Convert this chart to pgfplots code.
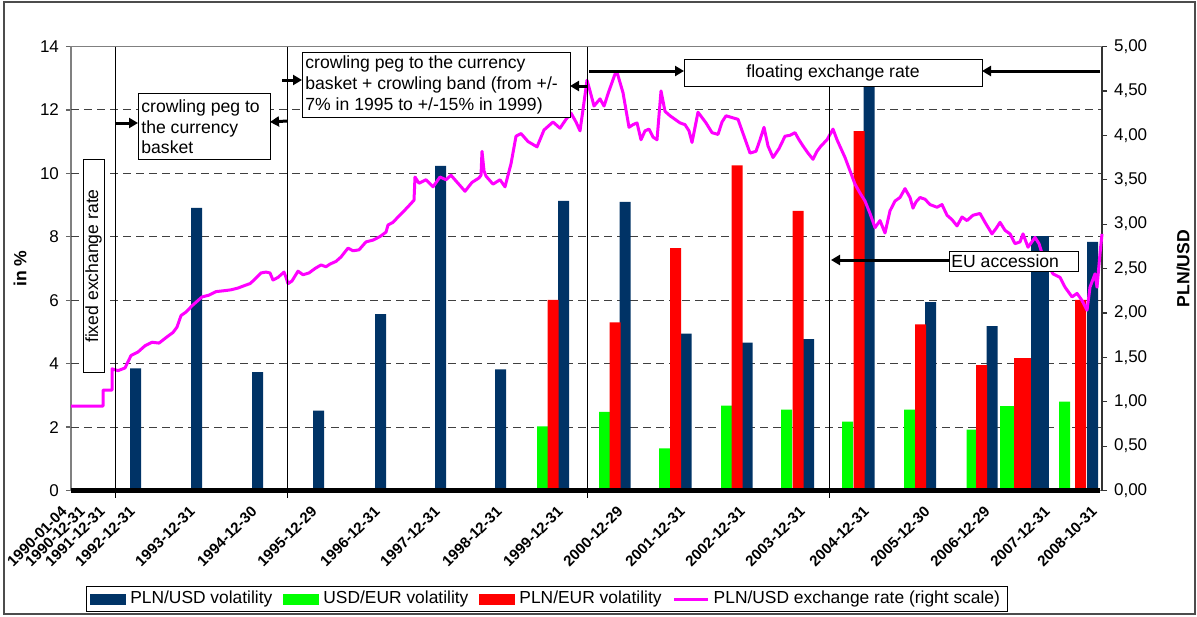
\documentclass[border=0pt]{standalone}
\usepackage{pgfplots}
\usepackage{pgfplotstable}
\pgfplotsset{compat=1.18}
\usepackage{fontspec}
\setmainfont{Liberation Sans}
\usetikzlibrary{arrows.meta}
\definecolor{navy}{HTML}{003366}
\definecolor{lgreen}{HTML}{00FF00}
\definecolor{lred}{HTML}{FF0000}
\definecolor{magen}{HTML}{FF00FF}

% x = position along the time axis (0 = 1990-01-04, 1031 = 2008-10-31)
\pgfplotstableread{
x y
64.5 3.85
125.5 8.91
186.5 3.73
247.5 2.52
309.5 5.56
369.5 10.24
429.5 3.82
492.5 9.13
554 9.10
615 4.95
676 4.66
737.5 4.77
798 13.2
859.5 5.94
921 5.18
1021.5 7.84
}\bluetab
\pgfplotstableread{
x y
471.5 2.02
533.5 2.48
593.5 1.33
655.5 2.68
715.5 2.55
776.5 2.17
838.5 2.55
901 1.92
993.5 2.80
}\greentab
\pgfplotstableread{
x y
482 6.01
544 5.30
604.5 7.64
666 10.25
727 8.82
788 11.33
849.5 5.24
910.5 3.95
1009.5 6.01
}\redtab
\pgfplotstableread{
x y
0 0.95
32 0.95
32 1.13
41 1.13
41 1.37
47 1.35
54 1.38
60 1.52
67 1.56
74 1.63
81 1.67
88 1.66
96 1.73
102 1.78
106 1.84
110 1.97
115 2.01
121 2.08
131 2.18
138 2.20
145 2.24
153 2.25
160 2.26
167 2.28
174 2.31
179 2.33
183 2.37
190 2.45
195 2.46
199 2.45
202 2.37
207 2.40
213 2.46
215 2.40
217 2.33
221 2.36
227 2.47
232 2.43
238 2.45
244 2.50
250 2.54
255 2.52
259 2.55
265 2.58
270 2.63
277 2.73
282 2.70
288 2.71
295 2.80
302 2.82
309 2.86
315 2.91
317 2.99
322 3.02
327 3.08
334 3.16
339 3.22
343 3.27
344 3.53
348 3.46
355 3.50
362 3.42
369 3.53
375 3.50
380 3.55
387 3.46
394 3.37
401 3.47
408 3.52
410 3.55
411 3.82
413 3.60
415 3.54
422 3.45
429 3.50
434 3.42
440 3.68
445 3.99
450 4.02
457 3.93
466 3.87
473 4.06
482 4.15
489 4.08
495 4.18
500 4.25
505 4.15
509 4.05
512 4.29
516 4.62
519 4.50
523 4.33
529 4.41
533 4.33
538 4.50
544 4.69
546 4.71
552 4.48
558 4.09
562 4.12
566 4.14
570 3.95
574 4.05
578 4.07
582 3.98
586 3.95
590 4.50
594 4.27
599 4.22
604 4.18
609 4.14
614 4.12
618 4.05
621 3.92
627 4.26
631 4.20
635 4.14
641 4.03
647 4.01
651 4.15
655 4.22
661 4.20
667 4.18
673 3.99
679 3.80
685 3.82
689 3.95
693 4.09
697 3.88
702 3.75
708 3.85
714 3.99
719 4.00
724 4.03
728 3.95
732 3.88
737 3.80
742 3.73
746 3.82
750 3.88
756 3.95
762 4.07
766 3.95
770 3.85
774 3.75
779 3.60
784 3.45
789 3.35
794 3.26
799 3.12
804 2.96
809 3.04
814 2.90
819 3.15
824 3.26
829 3.30
834 3.40
839 3.30
842 3.18
845 3.25
849 3.30
854 3.28
859 3.22
866 3.19
871 3.22
876 3.10
881 3.05
886 2.98
891 3.08
896 3.04
902 3.10
909 3.12
914 3.02
921 2.89
925 2.95
929 3.02
934 2.93
939 2.89
944 2.78
949 2.80
952 2.89
957 2.74
964 2.85
968 2.78
971 2.67
976 2.56
982 2.44
989 2.40
994 2.29
1001 2.18
1006 2.22
1011 2.14
1016 2.03
1019 2.29
1024 2.44
1026 2.29
1029 2.67
1031 2.89
}\ratetab

\pgfplotsset{
  barleg/.style={legend image code/.code={\fill[##1] (0pt,-2.75pt) rectangle (18pt,2.75pt);}},
}

\begin{document}
\begin{tikzpicture}
\begin{scope}[x=0.5pt,y=-0.5pt]
  \useasboundingbox (0,0) rectangle (1197,616);
\end{scope}

\begin{axis}[
  at={(35.5pt,-245.25pt)}, anchor=south west,
  scale only axis, width=515.5pt, height=222pt,
  xmin=0, xmax=1031, ymin=0, ymax=14,
  clip=false,
  axis line style={draw=black!50, line width=0.6pt},
  /pgf/number format/assume math mode=true,
  ytick={0,2,4,6,8,10,12,14},
  ytick pos=left,
  tick align=outside,
  major tick length=2.5pt,
  y tick style={black!60, line width=0.6pt},
  yticklabel style={font=\fontsize{8.5}{10}\selectfont},
  xtick={0,18,38,68,128,190,250,313,373,435,496,556,618,678,738,802,863,923,983,1030},
  xticklabels={1990-01-04,1990-12-31,1991-12-31,1992-12-31,1993-12-31,1994-12-30,1995-12-29,1996-12-31,1997-12-31,1998-12-31,1999-12-31,2000-12-29,2001-12-31,2002-12-31,2003-12-31,2004-12-31,2005-12-30,2006-12-29,2007-12-31,2008-10-31},
  x tick style={draw=none},
  xticklabel style={font=\fontsize{7.5}{9}\selectfont\bfseries, xshift=-2.6pt, yshift=-6pt, rotate=45, anchor=east, inner sep=1pt},
  extra y ticks={2,4,6,8,10,12}, extra y tick labels={},
  extra y tick style={grid=major, major tick length=0pt},
  grid style={black!75, dash pattern=on 4pt off 2.5pt, line width=0.5pt},
  ylabel={in \%},
  ylabel style={font=\fontsize{8.8}{10}\selectfont\bfseries, at={(axis description cs:-0.0495,0.5)}, anchor=center},
  legend style={at={(0.4618,-0.2444)}, anchor=center, legend columns=4, draw=black, line width=0.5pt,
    font=\fontsize{8.7}{10}\selectfont, inner xsep=2pt, inner ysep=0.5pt,
    /tikz/every even column/.append style={column sep=3.5pt}},
]
\addplot[ybar, bar width=11, bar shift=0pt, fill=navy, draw=none, barleg] table[x=x,y=y]{\bluetab};
\addlegendentry{PLN/USD volatility}
\addplot[ybar, bar width=11, bar shift=0pt, fill=lgreen, draw=none, barleg] table[x=x,y=y]{\greentab};
\addlegendentry{USD/EUR volatility}
\addplot[ybar, bar width=11, bar shift=0pt, fill=lred, draw=none, barleg] table[x=x,y=y]{\redtab};
\addlegendentry{PLN/EUR volatility}
\addlegendimage{magen, line width=1.5pt, line legend}
\addlegendentry{PLN/USD exchange rate (right scale)}
% 2007 bars are wider in the reference
\addplot[ybar, bar width=14, bar shift=0pt, fill=lgreen, draw=none, forget plot] coordinates {(936,2.68)};
\addplot[ybar, bar width=17, bar shift=0pt, fill=lred, draw=none, forget plot] coordinates {(951.5,4.19)};
\addplot[ybar, bar width=18, bar shift=0pt, fill=navy, draw=none, forget plot] coordinates {(969,8.03)};
\draw[black, line width=2.5pt] (axis cs:0,0) -- (axis cs:1029,0);
\end{axis}

\begin{axis}[
  at={(35.5pt,-245.25pt)}, anchor=south west,
  scale only axis, width=515.5pt, height=222pt,
  xmin=0, xmax=1031, ymin=0, ymax=5,
  clip=false,
  axis x line=none,
  axis y line*=right,
  axis line style={black!80, line width=0.6pt, -},
  /pgf/number format/assume math mode=true,
  ytick={0,0.5,1,1.5,2,2.5,3,3.5,4,4.5,5},
  tick align=outside, major tick length=2.5pt,
  y tick style={black!80, line width=0.6pt},
  yticklabel style={font=\fontsize{8.5}{10}\selectfont, /pgf/number format/fixed, /pgf/number format/fixed zerofill, /pgf/number format/precision=2, /pgf/number format/use comma},
  ylabel={PLN/USD},
  ylabel style={font=\fontsize{8.8}{10}\selectfont\bfseries, at={(axis description cs:1.0786,0.5)}, anchor=center},
]
\addplot[magen, line width=1.5pt, line join=round] table[x=x,y=y]{\ratetab};
\end{axis}

\begin{scope}[x=0.5pt,y=-0.5pt, font=\fontsize{8.8}{10.35}\selectfont]
  % outer frame
  \draw[black!70, line width=1pt] (4,2) rectangle (1195,614);
  % regime boundaries
  \draw[black, line width=0.5pt] (115,46.5) -- (115,498);
  \draw[black, line width=0.5pt] (287,46.5) -- (287,498);
  \draw[black, line width=0.5pt] (587,46.5) -- (587,498);
  \draw[black, line width=0.5pt] (829,86) -- (829,498);
  % boxes
  \draw[fill=white, line width=0.5pt] (83,159) rectangle (104,372);
  \node[rotate=90, inner sep=0pt] at (93.5,266) {fixed exchange rate};
  \draw[fill=white, line width=0.5pt] (138,93) rectangle (270,159);
  \node[anchor=west, align=left, inner sep=0pt] at (141,127) {crowling peg to\\the currency\\basket};
  \draw[fill=white, line width=0.5pt] (302,52) rectangle (570,117);
  \node[anchor=west, align=left, inner sep=0pt] at (305,85) {crowling peg to the currency\\basket + crowling band (from +/-\\7\% in 1995 to +/-15\% in 1999)};
  \draw[fill=white, line width=0.5pt] (684,59) rectangle (982,86);
  \node[inner sep=0pt] at (833,72.5) {floating exchange rate};
  \draw[fill=white, line width=0.5pt] (949,251) rectangle (1078,271);
  \node[anchor=west, inner sep=0pt] at (951,261) {EU accession};
  % arrows
  \begin{scope}[line width=1.5pt, -{Triangle[length=4.5pt,width=5pt]}]
    \draw (115,123) -- (138,123);
    \draw (287,121) -- (270,122);
    \draw (282,80) -- (302,80);
    \draw (587,86) -- (570,86);
    \draw (589,71) -- (684,71);
    \draw (1100,71) -- (982,71);
    \draw (949,260) -- (831,260);
  \end{scope}
\end{scope}
\end{tikzpicture}
\end{document}
